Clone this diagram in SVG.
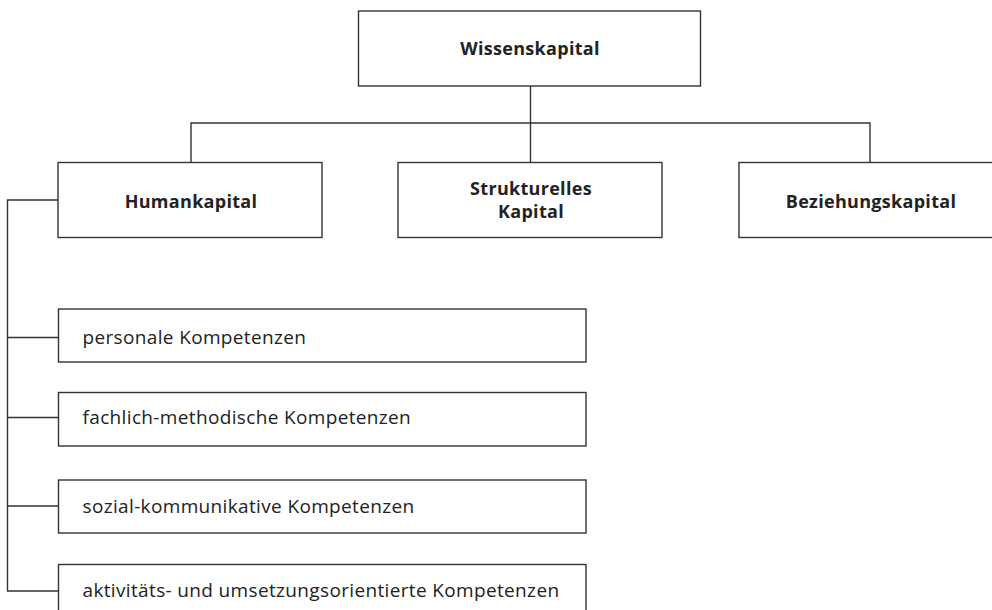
<svg xmlns="http://www.w3.org/2000/svg" width="992" height="610" viewBox="0 0 992 610">
<style>
.box{fill:#fff;stroke:#333;stroke-width:1.4}
.con{fill:none;stroke:#333;stroke-width:1.4}
.h{font-family:"Open Sans","Noto Sans",sans-serif;font-weight:bold;font-size:18px;letter-spacing:0.3px;fill:#222;text-anchor:middle}
.t{font-family:"Open Sans","Noto Sans",sans-serif;font-size:19px;letter-spacing:0.35px;fill:#222}
</style>
<rect width="992" height="610" fill="#fff"/>
<g id="connectors">
<path class="con" d="M530.5 86 V123 M191 162 V123 H870 V162 M530.5 123 V162"/>
<path class="con" d="M58 200 H7.5 V591 H58 M7.5 337.5 H58 M7.5 417.5 H58 M7.5 506 H58"/>
</g>
<g id="wissenskapital">
<rect class="box" x="358.5" y="11" width="342" height="75"/>
<text class="h" x="530" y="55">Wissenskapital</text>
</g>
<g id="humankapital">
<rect class="box" x="58" y="162.5" width="264" height="75"/>
<text class="h" x="191" y="208">Humankapital</text>
</g>
<g id="strukturelles">
<rect class="box" x="398" y="162.5" width="264" height="75"/>
<text class="h" x="531" y="195">Strukturelles</text>
<text class="h" x="531" y="218">Kapital</text>
</g>
<g id="beziehungskapital">
<rect class="box" x="739" y="162.5" width="264" height="75"/>
<text class="h" x="871" y="208">Beziehungskapital</text>
</g>
<g id="personale">
<rect class="box" x="58.5" y="309" width="527.5" height="53"/>
<text class="t" x="82.5" y="344">personale Kompetenzen</text>
</g>
<g id="fachlich">
<rect class="box" x="58.5" y="392.5" width="527.5" height="53.5"/>
<text class="t" x="82.5" y="424">fachlich-methodische Kompetenzen</text>
</g>
<g id="sozial">
<rect class="box" x="58.5" y="480" width="527.5" height="53"/>
<text class="t" x="82.5" y="512.5">sozial-kommunikative Kompetenzen</text>
</g>
<g id="aktivitaets">
<rect class="box" x="58.5" y="564.5" width="527.5" height="53"/>
<text class="t" x="82.5" y="597">aktivitäts- und umsetzungsorientierte Kompetenzen</text>
</g>
</svg>
